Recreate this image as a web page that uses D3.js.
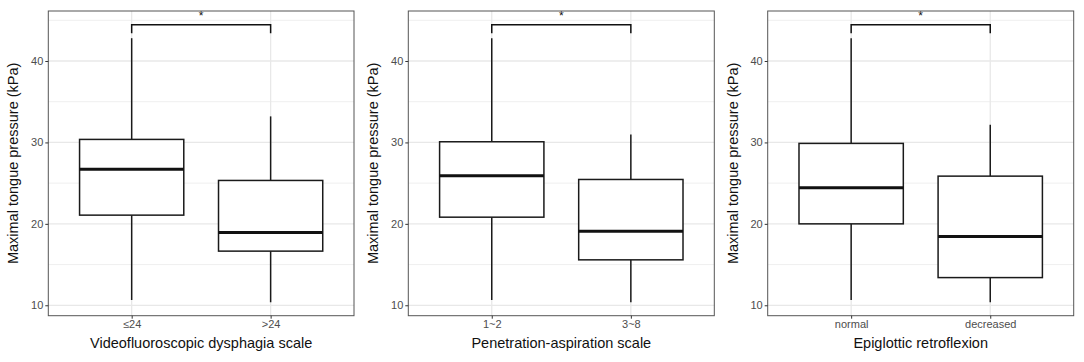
<!DOCTYPE html>
<html>
<head>
<meta charset="utf-8">
<script src="https://cdn.jsdelivr.net/npm/d3@7"></script>
<style>
  html, body { margin: 0; padding: 0; background: #fff; }
  svg { display: block; font-family: "Liberation Sans", Arial, sans-serif; }
</style>
</head>
<body>
<svg id="chart" width="1084" height="362"></svg>
<script>
// ---- data ----
const yTitle = "Maximal tongue pressure (kPa)";
const xTitles = ["Videofluoroscopic dysphagia scale", "Penetration-aspiration scale", "Epiglottic retroflexion"];
const yTicks = [10, 20, 30, 40];
const yMinorTicks = [15, 25, 35, 45];

const panel1Categories = ["≤24", ">24"];
const panel2Categories = ["1~2", "3~8"];
const panel3Categories = ["normal", "decreased"];

// [lower whisker, Q1, median, Q3, upper whisker] per category
const panel1Stats = [[10.65, 21.07, 26.72, 30.37, 42.8], [10.37, 16.65, 18.94, 25.33, 33.2]];
const panel2Stats = [[10.65, 20.82, 25.9, 30.08, 42.8], [10.37, 15.58, 19.1, 25.45, 30.98]];
const panel3Stats = [[10.65, 20.0, 24.43, 29.88, 42.8], [10.37, 13.4, 18.45, 25.86, 32.16]];

const bracketY = [44.46, 44.46, 44.46];
const bracketDrop = [43.4, 43.4, 43.4];
const sigLabels = ["*", "*", "*"];

const panels = [
  { cats: panel1Categories, stats: panel1Stats, left: 48.3, right: 354 },
  { cats: panel2Categories, stats: panel2Stats, left: 408.3, right: 714.3 },
  { cats: panel3Categories, stats: panel3Stats, left: 767.7, right: 1073.7 }
];

const plotTop = 11, plotBottom = 315.7;
const yDomain = [8.72, 46.14];

const svg = d3.select("#chart");

panels.forEach((p, i) => {
  const y = d3.scaleLinear().domain(yDomain).range([plotBottom, plotTop]);
  // ggplot discrete scale: expansion 0.6 units each side
  const unit = (p.right - p.left) / (p.cats.length - 1 + 1.2);
  const xp = d3.scalePoint().domain(p.cats)
    .range([p.left + 0.6 * unit, p.right - 0.6 * unit]);
  const boxW = 0.75 * unit;

  const g = svg.append("g");

  g.append("rect").attr("x", p.left).attr("y", plotTop)
    .attr("width", p.right - p.left).attr("height", plotBottom - plotTop)
    .attr("fill", "#fff");

  // minor grid
  g.selectAll(".minor").data(yMinorTicks.filter(v => v < yDomain[1])).enter()
    .append("line")
    .attr("x1", p.left).attr("x2", p.right)
    .attr("y1", d => y(d)).attr("y2", d => y(d))
    .attr("stroke", "#efefef").attr("stroke-width", 1);

  // major grid
  g.selectAll(".major").data(yTicks).enter().append("line")
    .attr("x1", p.left).attr("x2", p.right)
    .attr("y1", d => y(d)).attr("y2", d => y(d))
    .attr("stroke", "#e8e8e8").attr("stroke-width", 1.3);
  g.selectAll(".vmajor").data(p.cats).enter().append("line")
    .attr("x1", d => xp(d)).attr("x2", d => xp(d))
    .attr("y1", plotTop).attr("y2", plotBottom)
    .attr("stroke", "#e8e8e8").attr("stroke-width", 1.3);

  // boxes
  p.cats.forEach((c, j) => {
    const s = p.stats[j];
    const cx = xp(c);
    g.append("line").attr("x1", cx).attr("x2", cx)
      .attr("y1", y(s[3])).attr("y2", y(s[4]))
      .attr("stroke", "#1a1a1a").attr("stroke-width", 1.5);
    g.append("line").attr("x1", cx).attr("x2", cx)
      .attr("y1", y(s[0])).attr("y2", y(s[1]))
      .attr("stroke", "#1a1a1a").attr("stroke-width", 1.5);
    g.append("rect").attr("x", cx - boxW / 2).attr("y", y(s[3]))
      .attr("width", boxW).attr("height", y(s[1]) - y(s[3]))
      .attr("fill", "#fff").attr("stroke", "#1a1a1a").attr("stroke-width", 1.5);
    g.append("line").attr("x1", cx - boxW / 2).attr("x2", cx + boxW / 2)
      .attr("y1", y(s[2])).attr("y2", y(s[2]))
      .attr("stroke", "#111").attr("stroke-width", 3);
  });

  // significance bracket
  const x1 = xp(p.cats[0]), x2 = xp(p.cats[1]);
  g.append("path")
    .attr("d", `M${x1},${y(bracketDrop[i])}V${y(bracketY[i])}H${x2}V${y(bracketDrop[i])}`)
    .attr("fill", "none").attr("stroke", "#111").attr("stroke-width", 1.5);
  g.append("text").attr("x", (x1 + x2) / 2).attr("y", y(bracketY[i]) - 4.5)
    .attr("text-anchor", "middle").attr("font-size", 12).attr("fill", "#111")
    .text(sigLabels[i]);

  // panel border
  g.append("rect").attr("x", p.left).attr("y", plotTop)
    .attr("width", p.right - p.left).attr("height", plotBottom - plotTop)
    .attr("fill", "none").attr("stroke", "#555").attr("stroke-width", 1);

  // y axis
  const ya = d3.axisLeft(y).tickValues(yTicks).tickSize(3).tickPadding(2);
  const yg = g.append("g").attr("transform", `translate(${p.left},0)`).call(ya);
  yg.select(".domain").remove();
  yg.selectAll(".tick line").attr("stroke", "#333");
  yg.selectAll(".tick text").attr("fill", "#4d4d4d").attr("font-size", 11)
    .attr("font-family", "Liberation Sans, Arial, sans-serif");

  // x axis
  const xa = d3.axisBottom(xp).tickSize(3).tickPadding(2);
  const xg = g.append("g").attr("transform", `translate(0,${plotBottom})`).call(xa);
  xg.select(".domain").remove();
  xg.selectAll(".tick line").attr("stroke", "#333");
  xg.selectAll(".tick text").attr("fill", "#4d4d4d").attr("font-size", 11)
    .attr("font-family", "Liberation Sans, Arial, sans-serif");

  // titles
  g.append("text").attr("x", (p.left + p.right) / 2).attr("y", 348)
    .attr("text-anchor", "middle").attr("font-size", 14.5).attr("fill", "#111")
    .text(xTitles[i]);
  g.append("text")
    .attr("transform", `translate(${p.left - 30},${(plotTop + plotBottom) / 2}) rotate(-90)`)
    .attr("text-anchor", "middle").attr("font-size", 14.5).attr("fill", "#111")
    .text(yTitle);
});
</script>
</body>
</html>
